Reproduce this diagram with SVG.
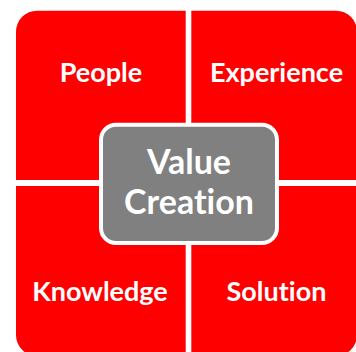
<svg xmlns="http://www.w3.org/2000/svg" width="356" height="352" viewBox="0 0 356 352">
<style>
.q{fill:#FF0000}
.lbl{font-family:Lato,"Open Sans",sans-serif;font-weight:bold;fill:#FFFFFF;text-anchor:middle;font-size:27px;font-variant-ligatures:none}
.ctr{font-family:Lato,"Open Sans",sans-serif;font-weight:bold;fill:#FFFFFF;text-anchor:middle;font-size:34px;font-variant-ligatures:none}
</style>
<rect width="356" height="352" fill="#FFFFFF"/>
<g id="people">
<path class="q" d="M16,180 V31.7 A21,21 0 0 1 37,10.7 H185.7 V180 Z"/>
<text class="lbl" x="101" y="82">People</text>
</g>
<g id="experience">
<path class="q" d="M191.3,10.7 H336 A21,21 0 0 1 357,31.7 V180 H191.3 Z"/>
<text class="lbl" x="276.5" y="82">Experience</text>
</g>
<g id="knowledge">
<path class="q" d="M16,186 H185.7 V356 H37 A21,21 0 0 1 16,335 Z"/>
<text class="lbl" x="100" y="301">Knowledge</text>
</g>
<g id="solution">
<path class="q" d="M191.3,186 H357 V335 A21,21 0 0 1 336,356 H191.3 Z"/>
<text class="lbl" x="276.5" y="301">Solution</text>
</g>
<g id="value-creation">
<rect x="101" y="124.7" width="176" height="118.3" rx="15" ry="15" fill="#808080" stroke="#FFFFFF" stroke-width="4"/>
<text class="ctr" x="189" y="174">Value</text>
<text class="ctr" x="189" y="214">Creation</text>
</g>
</svg>
